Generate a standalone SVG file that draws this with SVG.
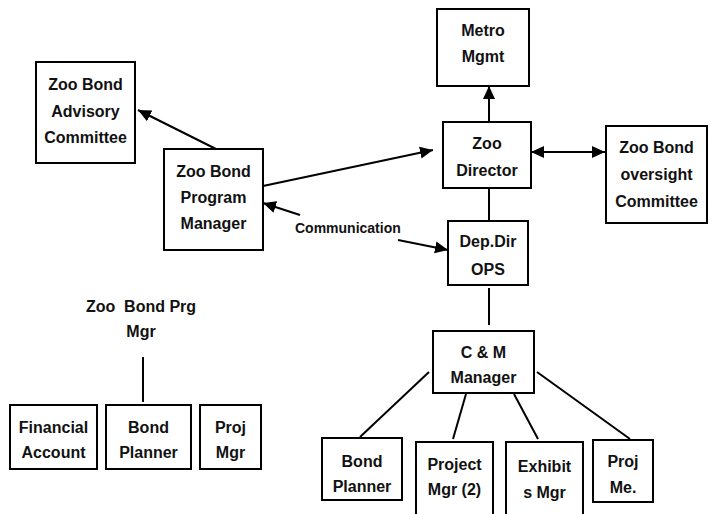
<svg xmlns="http://www.w3.org/2000/svg" width="710" height="514" viewBox="0 0 710 514">
<style>
.box{fill:#fff;stroke:#000;stroke-width:2}
.t{font-family:"Liberation Sans",Arial,sans-serif;font-size:16px;font-weight:bold;fill:#111;text-anchor:middle}
.c{stroke:#000;stroke-width:2;fill:none}
.lbl{font-family:"Liberation Sans",Arial,sans-serif;font-size:14px;font-weight:bold;fill:#111}
</style>
<defs>
<marker id="ah" markerUnits="userSpaceOnUse" markerWidth="14" markerHeight="14" viewBox="0 0 14 14" refX="13" refY="7" orient="auto-start-reverse">
<path d="M0,1 L13,7 L0,13 Z" fill="#000"/>
</marker>
</defs>
<rect width="710" height="514" fill="#fff"/>
<g id="connectors">
<line class="c" x1="216" y1="149" x2="138" y2="110" marker-end="url(#ah)"/>
<line class="c" x1="263" y1="186" x2="433" y2="150" marker-end="url(#ah)"/>
<line class="c" x1="300" y1="215" x2="263" y2="203" marker-end="url(#ah)"/>
<line class="c" x1="398" y1="240" x2="448" y2="250" marker-end="url(#ah)"/>
<line class="c" x1="489" y1="122" x2="489" y2="86" marker-end="url(#ah)"/>
<line class="c" x1="531" y1="152" x2="605" y2="152" marker-start="url(#ah)" marker-end="url(#ah)"/>
<line class="c" x1="489" y1="188" x2="489" y2="221"/>
<line class="c" x1="489" y1="288" x2="489" y2="325"/>
<line class="c" x1="429" y1="372" x2="360" y2="437"/>
<line class="c" x1="466" y1="394" x2="453" y2="439"/>
<line class="c" x1="514" y1="394" x2="538" y2="439"/>
<line class="c" x1="537" y1="372" x2="630" y2="439"/>
<line class="c" x1="143" y1="357" x2="143" y2="402"/>
<text class="lbl" x="295" y="233">Communication</text>
</g>
<g id="advisory">
<rect class="box" x="36" y="62" width="99" height="101"/>
<text class="t" x="85.5" y="90">Zoo Bond</text>
<text class="t" x="85.5" y="116.5">Advisory</text>
<text class="t" x="85.5" y="143">Committee</text>
</g>
<g id="program-manager">
<rect class="box" x="164" y="149" width="99" height="101"/>
<text class="t" x="213.5" y="177">Zoo Bond</text>
<text class="t" x="213.5" y="203">Program</text>
<text class="t" x="213.5" y="229">Manager</text>
</g>
<g id="metro">
<rect class="box" x="437" y="9" width="92" height="77"/>
<text class="t" x="483" y="36">Metro</text>
<text class="t" x="483" y="62">Mgmt</text>
</g>
<g id="director">
<rect class="box" x="443" y="122" width="88" height="66"/>
<text class="t" x="487" y="149">Zoo</text>
<text class="t" x="487" y="176">Director</text>
</g>
<g id="oversight">
<rect class="box" x="606" y="126" width="101" height="97"/>
<text class="t" x="656.5" y="153">Zoo Bond</text>
<text class="t" x="656.5" y="180">oversight</text>
<text class="t" x="656.5" y="207">Committee</text>
</g>
<g id="depdir">
<rect class="box" x="448" y="221" width="80" height="64"/>
<text class="t" x="488" y="247">Dep.Dir</text>
<text class="t" x="488" y="275">OPS</text>
</g>
<g id="cm-manager">
<rect class="box" x="433" y="331" width="101" height="62"/>
<text class="t" x="483.5" y="358">C &amp; M</text>
<text class="t" x="483.5" y="383">Manager</text>
</g>
<g id="bond-planner-r">
<rect class="box" x="322" y="438" width="80" height="62"/>
<text class="t" x="362" y="467">Bond</text>
<text class="t" x="362" y="492">Planner</text>
</g>
<g id="project-mgr">
<rect class="box" x="416" y="442" width="77" height="80"/>
<text class="t" x="454.5" y="470">Project</text>
<text class="t" x="454.5" y="495">Mgr (2)</text>
</g>
<g id="exhibits">
<rect class="box" x="506" y="442" width="77" height="80"/>
<text class="t" x="544.5" y="472">Exhibit</text>
<text class="t" x="544.5" y="498">s Mgr</text>
</g>
<g id="proj-me">
<rect class="box" x="593" y="440" width="60" height="62"/>
<text class="t" x="623" y="467">Proj</text>
<text class="t" x="623" y="493">Me.</text>
</g>
<g id="prg-mgr-label">
<text class="t" x="141" y="312" xml:space="preserve">Zoo  Bond Prg</text>
<text class="t" x="141" y="337">Mgr</text>
</g>
<g id="financial">
<rect class="box" x="10" y="405" width="87" height="64"/>
<text class="t" x="53.5" y="433">Financial</text>
<text class="t" x="53.5" y="458">Account</text>
</g>
<g id="bond-planner-l">
<rect class="box" x="106" y="405" width="85" height="64"/>
<text class="t" x="148.5" y="433">Bond</text>
<text class="t" x="148.5" y="458">Planner</text>
</g>
<g id="proj-mgr-l">
<rect class="box" x="200" y="405" width="61" height="64"/>
<text class="t" x="230.5" y="433">Proj</text>
<text class="t" x="230.5" y="458">Mgr</text>
</g>
</svg>
